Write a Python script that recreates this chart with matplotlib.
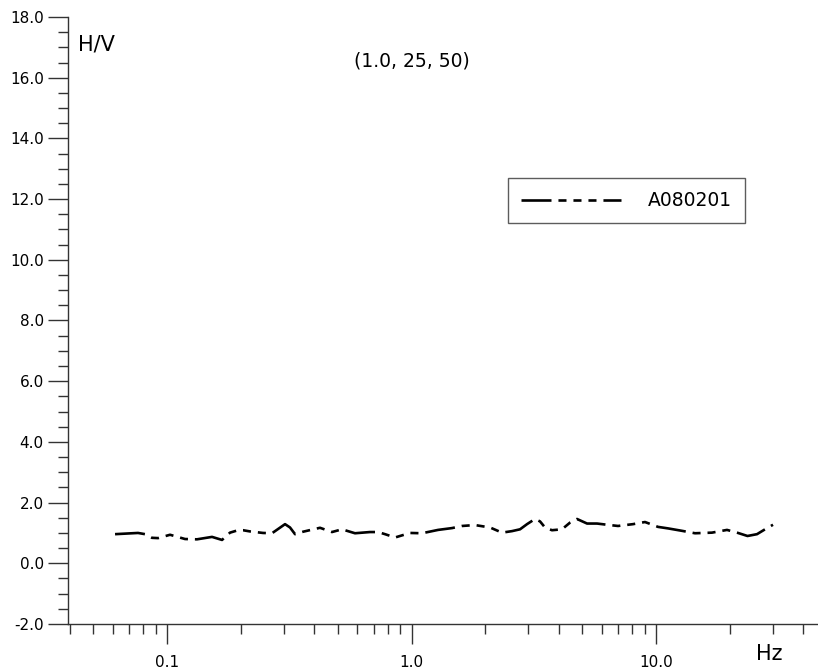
import numpy as np
import matplotlib.pyplot as plt
from matplotlib.ticker import FixedLocator, FuncFormatter

plt.rcParams['font.family'] = ['DejaVu Sans']
plt.rcParams['axes.unicode_minus'] = False
plt.rcParams['lines.scale_dashes'] = False

# H/V spectral ratio curve
freq = [0.0613, 0.0761, 0.0813, 0.0868, 0.0919, 0.1029, 0.1185, 0.1326, 0.1528,
        0.1679, 0.181, 0.1952, 0.2046, 0.2185, 0.247, 0.2688, 0.3039, 0.3185,
        0.3339, 0.3599, 0.4224, 0.4729, 0.5196, 0.5873, 0.6764, 0.7295, 0.779,
        0.8561, 0.986, 1.104, 1.284, 1.464, 1.609, 1.818, 2.095, 2.345, 2.576,
        2.779, 2.968, 3.2, 3.355, 3.516, 3.754, 4.126, 4.448, 4.753, 5.224,
        5.738, 6.303, 6.992, 8.053, 9.016, 10.19, 11.2, 12.77, 14.44, 16.94,
        19.52, 21.45, 23.67, 25.89, 27.92, 30.1]
hv = [0.96, 1.0, 0.96, 0.84, 0.83, 0.94, 0.8, 0.79, 0.87,
      0.77, 1.01, 1.09, 1.09, 1.05, 1.0, 0.99, 1.29, 1.18,
      0.96, 1.04, 1.17, 1.03, 1.12, 0.99, 1.03, 1.03, 0.96,
      0.85, 1.0, 0.99, 1.1, 1.16, 1.23, 1.26, 1.18, 1.01, 1.06,
      1.12, 1.29, 1.46, 1.38, 1.18, 1.09, 1.12, 1.34, 1.46, 1.31,
      1.31, 1.27, 1.23, 1.29, 1.36, 1.2, 1.15, 1.07, 0.99, 1.01,
      1.1, 1.01, 0.9, 0.96, 1.12, 1.27]
station = 'A080201'
params = '(1.0, 25, 50)'

x_major = [0.1, 1.0, 10.0]
x_minor = [0.04, 0.05, 0.06, 0.07, 0.08, 0.09,
           0.2, 0.3, 0.4, 0.5, 0.6, 0.7, 0.8, 0.9,
           2, 3, 4, 5, 6, 7, 8, 9, 20, 30, 40]
y_major = np.arange(-2, 18.1, 2)
y_minor = np.arange(-2, 18.1, 0.5)

W, H = 818, 672
fig = plt.figure(figsize=(W / 100, H / 100), dpi=100)
ax = fig.add_axes([68 / W, 48 / H, 1 - 68 / W, (624 - 17) / H])

# long dash followed by three short ones
dash = (0, (21.6, 5.0, 5.8, 5.0, 5.8, 5.0, 5.8, 5.0))
ax.plot(freq, hv, color='black', lw=1.9, linestyle=dash, label=station)

ax.set_xscale('log')
ax.set_xlim(0.03936, 45.98)
ax.set_ylim(-2, 18)

spine_c = '#333333'
for s in ('top', 'right'):
    ax.spines[s].set_visible(False)
for s in ('left', 'bottom'):
    ax.spines[s].set_color(spine_c)
    ax.spines[s].set_linewidth(1.0)

ax.xaxis.set_major_locator(FixedLocator(x_major))
ax.xaxis.set_minor_locator(FixedLocator(x_minor))
ax.xaxis.set_major_formatter(FuncFormatter(lambda v, p: f'{v:.1f}'))
ax.xaxis.set_minor_formatter(FuncFormatter(lambda v, p: ''))
ax.yaxis.set_major_locator(FixedLocator(y_major))
ax.yaxis.set_minor_locator(FixedLocator(y_minor))
ax.yaxis.set_major_formatter(FuncFormatter(lambda v, p: f'{v:.1f}'))

ax.tick_params(axis='x', which='major', direction='out', length=14.4, width=1.0,
               color=spine_c, labelsize=11, pad=8)
ax.tick_params(axis='x', which='minor', direction='out', length=7.2, width=1.0,
               color=spine_c)
ax.tick_params(axis='y', which='major', direction='out', length=14.4, width=1.0,
               color=spine_c, labelsize=11, pad=3)
ax.tick_params(axis='y', which='minor', direction='out', length=7.2, width=1.0,
               color=spine_c)

fig.text(78 / W, 1 - 45 / H, 'H/V', fontsize=15, ha='left', va='center')
fig.text(769 / W, 1 - 654 / H, 'Hz', fontsize=15, ha='center', va='center')
fig.text(412 / W, 1 - 61 / H, params, fontsize=13.5, ha='center', va='center')

leg = ax.legend(loc='upper left', bbox_to_anchor=(508 / W, 1 - 178 / H),
                bbox_transform=fig.transFigure, fontsize=13.5, frameon=True,
                fancybox=False, handlelength=5.3, handletextpad=1.45,
                borderpad=0.7, borderaxespad=0)
frame = leg.get_frame()
frame.set_edgecolor('#333333')
frame.set_linewidth(1.0)

fig.savefig('out.png', dpi=100)
